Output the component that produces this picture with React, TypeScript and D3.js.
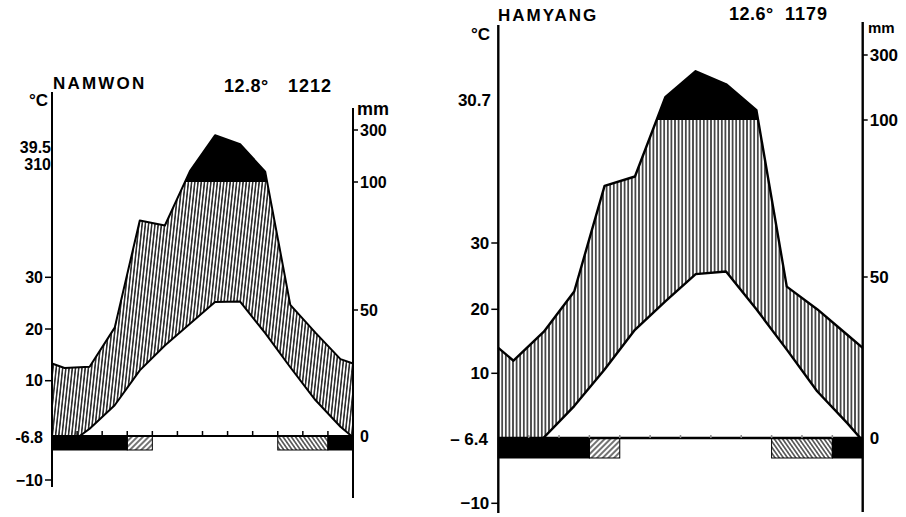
import React from 'react';
import * as d3 from 'd3';

// monthly means
const namwonTemp = [-3.0, 0.8, 5.3, 12.0, 16.8, 21.0, 25.2, 25.3, 19.2, 12.6, 6.3, 1.2];
const namwonPrec = [27, 27.5, 43, 85, 83, 142, 280, 245, 140, 52, 41, 30.5];
const hamyangTemp = [-3.2, 0.0, 4.9, 10.6, 16.8, 21.2, 25.3, 25.7, 20.0, 13.7, 7.2, 2.2];
const hamyangPrec = [24, 33, 45.5, 79, 82, 170, 250, 210, 130, 47, 40, 32];

// 2 = mean daily minimum below zero, 1 = absolute minimum below zero
const namwonFrost = [2, 2, 2, 1, 0, 0, 0, 0, 0, 1, 1, 2];
const hamyangFrost = [2, 2, 2, 1, 0, 0, 0, 0, 0, 1, 1, 2];

const tempTicks = [30, 20, 10, -10];
const precTicks = [300, 100, 50];

const namwonHead = ['NAMWON', '12.8°', '1212'];
const namwonSide = ['39.5', '310', '-6.8'];
const hamyangHead = ['HAMYANG', '12.6°', '1179'];
const hamyangSide = ['30.7', '– 6.4'];

const FONT = '"Liberation Sans", Arial, sans-serif';

const namwonLayout = {
  x0: 52, x1: 353,
  tRange: [480, 433, 380.7, 329, 277.3],
  pRange: [436, 310, 182, 130],
  leftTop: 92, leftBottom: 487, rightTop: 108, rightBottom: 498,
  barH: 14, stroke: 2, fs: 16, tickUp: 5, tickColor: '#000',
  hatchGap: 3.2, hatchAngle: 6,
  head: [{ x: 53, y: 89, fs: 17, ls: 2.2 }, { x: 224, y: 92, fs: 18, ls: 0.5 }, { x: 288, y: 92, fs: 18, ls: 1 }],
  degC: { x: 48, y: 106, fs: 17 }, mm: { x: 357, y: 115, fs: 18 },
  side: [{ x: 51, y: 147 }, { x: 51, y: 164 }, { x: 43, y: 437 }],
};

const hamyangLayout = {
  x0: 498.3, x1: 862.7,
  tRange: [503.3, 437.5, 373.3, 309.3, 243],
  pRange: [438, 277, 120, 55],
  leftTop: 25, leftBottom: 513, rightTop: 22, rightBottom: 512,
  barH: 20, stroke: 2.4, fs: 17, tickUp: 3, tickColor: '#888',
  hatchGap: 3.6, hatchAngle: 0,
  head: [{ x: 498, y: 21, fs: 17, ls: 2 }, { x: 729, y: 20, fs: 18, ls: 0.5 }, { x: 785, y: 20, fs: 18, ls: 1 }],
  degC: { x: 490, y: 40, fs: 17 }, mm: { x: 868, y: 33, fs: 15 },
  side: [{ x: 491, y: 100 }, { x: 488, y: 439 }],
};

function runs(frost: number[]) {
  const out: { v: number; a: number; b: number }[] = [];
  frost.forEach((v, i) => {
    const last = out[out.length - 1];
    if (last && last.v === v && last.b === i) last.b = i + 1;
    else out.push({ v, a: i, b: i + 1 });
  });
  return out.filter((r) => r.v > 0);
}

function Diagram({ id, temp, prec, frost, head, side, L }: any) {
  const x = d3.scaleLinear().domain([0, 12]).range([L.x0, L.x1]);
  const yT = d3.scaleLinear().domain([-10, 0, 10, 20, 30]).range(L.tRange);
  const yP = d3.scaleLinear().domain([0, 50, 100, 300]).range(L.pRange);

  // curves run from axis to axis, the edges take the Dec/Jan mean
  const edgeT = (temp[0] + temp[11]) / 2;
  const edgeP = (prec[0] + prec[11]) / 2;
  const pos = [0, ...d3.range(12).map((i) => i + 0.5), 12];
  const tS = [edgeT, ...temp, edgeT];
  const pS = [edgeP, ...prec, edgeP];
  const pts = pos.map((m, i) => ({ m, t: tS[i], p: pS[i] }));

  const base = yP(0);
  const lvl100 = yP(100);

  const humid = d3.area<any>().x((d) => x(d.m)).y0((d) => yT(d.t)).y1((d) => yP(d.p));
  const wet = d3.area<any>().x((d) => x(d.m)).y0(lvl100).y1((d) => yP(d.p));
  const tLine = d3.line<any>().x((d) => x(d.m)).y((d) => yT(d.t));
  const pLine = d3.line<any>().x((d) => x(d.m)).y((d) => yP(d.p));

  return (
    <g fontFamily={FONT} fontWeight="bold" fill="#000">
      <defs>
        <pattern id={`${id}-main`} width={L.hatchGap} height={10} patternUnits="userSpaceOnUse"
          patternTransform={`rotate(${L.hatchAngle})`}>
          <line x1={L.hatchGap / 2} y1={0} x2={L.hatchGap / 2} y2={10} stroke="#000" strokeWidth={1.3} />
        </pattern>
        <pattern id={`${id}-fwd`} width={4} height={4} patternUnits="userSpaceOnUse" patternTransform="rotate(45)">
          <line x1={2} y1={0} x2={2} y2={4} stroke="#000" strokeWidth={1.1} />
        </pattern>
        <pattern id={`${id}-back`} width={3.4} height={4} patternUnits="userSpaceOnUse" patternTransform="rotate(-35)">
          <line x1={1.7} y1={0} x2={1.7} y2={4} stroke="#000" strokeWidth={1.1} />
        </pattern>
        <clipPath id={`${id}-ch`}>
          <rect x={L.x0} y={lvl100} width={L.x1 - L.x0} height={base - lvl100} />
        </clipPath>
        <clipPath id={`${id}-cw`}>
          <rect x={L.x0} y={0} width={L.x1 - L.x0} height={lvl100} />
        </clipPath>
        <clipPath id={`${id}-ct`}>
          <rect x={L.x0} y={0} width={L.x1 - L.x0} height={base} />
        </clipPath>
      </defs>

      <path d={humid(pts) || ''} fill={`url(#${id}-main)`} clipPath={`url(#${id}-ch)`} />
      <path d={wet(pts) || ''} fill="#000" clipPath={`url(#${id}-cw)`} />
      <path d={pLine(pts) || ''} fill="none" stroke="#000" strokeWidth={L.stroke} strokeLinejoin="round" />
      <path d={tLine(pts) || ''} fill="none" stroke="#000" strokeWidth={L.stroke} strokeLinejoin="round"
        clipPath={`url(#${id}-ct)`} />

      {/* frost months */}
      {runs(frost).map((r) => (
        <rect key={r.a} x={x(r.a)} y={base} width={x(r.b) - x(r.a)} height={L.barH}
          fill={r.v === 2 ? '#000' : `url(#${id}-${r.a < 6 ? 'fwd' : 'back'})`}
          stroke="#000" strokeWidth={1} />
      ))}

      {/* axes */}
      <line x1={L.x0} y1={base} x2={L.x1} y2={base} stroke="#000" strokeWidth={L.stroke} />
      {d3.range(1, 12).map((i) => (
        <line key={i} x1={x(i)} x2={x(i)} y1={base - L.tickUp} y2={base} stroke={L.tickColor} strokeWidth={1.5} />
      ))}
      <line x1={L.x0} y1={L.leftTop} x2={L.x0} y2={L.leftBottom} stroke="#000" strokeWidth={L.stroke} />
      <line x1={L.x1} y1={L.rightTop} x2={L.x1} y2={L.rightBottom} stroke="#000" strokeWidth={L.stroke} />

      {tempTicks.map((v) => (
        <g key={v}>
          <line x1={L.x0 - 7} x2={L.x0} y1={yT(v)} y2={yT(v)} stroke="#000" strokeWidth={1.5} />
          <text x={L.x0 - 9} y={yT(v)} dy="0.36em" textAnchor="end" fontSize={L.fs}>{v < 0 ? `−${-v}` : v}</text>
        </g>
      ))}
      {precTicks.map((v) => (
        <g key={v}>
          <line x1={L.x1} x2={L.x1 + 5} y1={yP(v)} y2={yP(v)} stroke="#000" strokeWidth={1.5} />
          <text x={L.x1 + 7} y={yP(v)} dy="0.36em" fontSize={L.fs}>{v}</text>
        </g>
      ))}
      <text x={L.x1 + 7} y={base} dy="0.36em" fontSize={L.fs}>0</text>

      {/* header and side notes */}
      {head.map((s: string, i: number) => (
        <text key={s} x={L.head[i].x} y={L.head[i].y} fontSize={L.head[i].fs} letterSpacing={L.head[i].ls}>{s}</text>
      ))}
      <text x={L.degC.x} y={L.degC.y} textAnchor="end" fontSize={L.degC.fs}>°C</text>
      <text x={L.mm.x} y={L.mm.y} fontSize={L.mm.fs}>mm</text>
      {side.map((s: string, i: number) => (
        <text key={s} x={L.side[i].x} y={L.side[i].y} dy="0.36em" textAnchor="end" fontSize={L.fs}>{s}</text>
      ))}
    </g>
  );
}

export default function App() {
  return (
    <svg width={906} height={517} style={{ position: 'absolute', left: 0, top: 0, background: '#fff' }}>
      <rect width={906} height={517} fill="#fff" />
      <Diagram id="nw" temp={namwonTemp} prec={namwonPrec} frost={namwonFrost}
        head={namwonHead} side={namwonSide} L={namwonLayout} />
      <Diagram id="hy" temp={hamyangTemp} prec={hamyangPrec} frost={hamyangFrost}
        head={hamyangHead} side={hamyangSide} L={hamyangLayout} />
    </svg>
  );
}
